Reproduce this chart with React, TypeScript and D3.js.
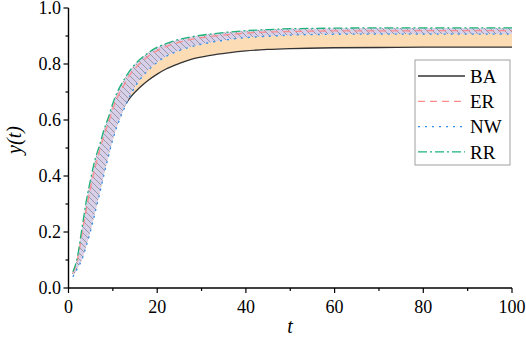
import React from 'react';
import * as d3 from 'd3';

// time steps sampled from the figure
const tValues = [1, 2, 3, 4, 5, 6, 7, 8, 9, 10, 11, 12, 14, 16, 18, 20, 22, 25, 28, 32, 36, 40, 45, 50, 60, 70, 80, 90, 100];

const baValues = [0.05, 0.09, 0.15, 0.22, 0.29, 0.36, 0.42, 0.48, 0.53, 0.572, 0.605, 0.635, 0.682, 0.715, 0.742, 0.764, 0.782, 0.802, 0.818, 0.831, 0.84, 0.847, 0.852, 0.855, 0.858, 0.859, 0.86, 0.86, 0.86];
const erValues = [0.055, 0.10, 0.19, 0.28, 0.36, 0.43, 0.49, 0.545, 0.59, 0.64, 0.68, 0.71, 0.765, 0.80, 0.828, 0.848, 0.862, 0.878, 0.889, 0.898, 0.905, 0.91, 0.914, 0.916, 0.918, 0.918, 0.919, 0.919, 0.919];
const nwValues = [0.04, 0.07, 0.10, 0.15, 0.205, 0.27, 0.335, 0.405, 0.47, 0.53, 0.58, 0.62, 0.69, 0.742, 0.778, 0.806, 0.827, 0.848, 0.863, 0.877, 0.887, 0.894, 0.899, 0.903, 0.906, 0.907, 0.907, 0.907, 0.907];
const rrValues = [0.058, 0.11, 0.21, 0.31, 0.39, 0.46, 0.51, 0.565, 0.61, 0.66, 0.70, 0.73, 0.78, 0.815, 0.84, 0.86, 0.873, 0.888, 0.898, 0.907, 0.914, 0.919, 0.923, 0.926, 0.928, 0.929, 0.929, 0.929, 0.929];

const xTicks = [0, 20, 40, 60, 80, 100];
const xMinorTicks = [10, 30, 50, 70, 90];
const yTicks = [0, 0.2, 0.4, 0.6, 0.8, 1.0];
const yMinorTicks = [0.1, 0.3, 0.5, 0.7, 0.9];

const legendItems = [
  { name: 'BA', color: '#333333', dash: '' },
  { name: 'ER', color: '#ff8c8c', dash: '7 5' },
  { name: 'NW', color: '#2f8fe8', dash: '2 5' },
  { name: 'RR', color: '#1fb37a', dash: '9 3 2 3' },
];

const W = 526;
const H = 345;
const font = 'Liberation Serif';

export default function App() {
  const x = d3.scaleLinear().domain([0, 100]).range([68.5, 512]);
  const y = d3.scaleLinear().domain([0, 1]).range([288, 8]);

  const idx = tValues.map((_, i) => i);
  const line = (vals: number[]) =>
    d3.line<number>().x(i => x(tValues[i])).y(i => y(vals[i])).curve(d3.curveMonotoneX)(idx) || '';

  const peach = d3.area<number>()
    .x(i => x(tValues[i]))
    .y0(i => y(baValues[i]))
    .y1(i => y(nwValues[i]))
    .curve(d3.curveMonotoneX)(idx) || '';

  const hatch = d3.area<number>()
    .x(i => x(tValues[i]))
    .y0(i => y(nwValues[i]))
    .y1(i => y(rrValues[i]))
    .curve(d3.curveMonotoneX)(idx) || '';

  const upper = [erValues, nwValues, rrValues];

  return (
    <svg width={W} height={H} style={{ position: 'absolute', left: 0, top: 0, background: '#fff' }}>
      <defs>
        <pattern id="hatch" width={6} height={6} patternUnits="userSpaceOnUse">
          <rect width={6} height={6} fill="#d8d0e8" />
          <path d="M0,0 L6,6 M-1,5 L1,7 M5,-1 L7,1" stroke="#8a8a96" strokeWidth={0.8} />
        </pattern>
      </defs>

      <path d={peach} fill="#fcdcb4" stroke="none" />
      {/* BA sits under the hatched band where it runs inside it */}
      <path d={line(baValues)} fill="none" stroke={legendItems[0].color} strokeWidth={1.3} />
      <path d={hatch} fill="url(#hatch)" stroke="none" />

      {upper.map((vals, k) => (
        <path key={legendItems[k + 1].name} d={line(vals)} fill="none"
          stroke={legendItems[k + 1].color} strokeWidth={1.3}
          strokeDasharray={legendItems[k + 1].dash} />
      ))}

      {/* axes */}
      <line x1={x(0)} x2={x(0)} y1={y(1)} y2={y(0)} stroke="#000" strokeWidth={1.4} />
      <line x1={x(0)} x2={x(100)} y1={y(0)} y2={y(0)} stroke="#000" strokeWidth={1.4} />

      {xTicks.map(t => (
        <g key={'x' + t}>
          <line x1={x(t)} x2={x(t)} y1={y(0)} y2={y(0) + 5} stroke="#000" strokeWidth={1.2} />
          <text x={x(t)} y={313} textAnchor="middle" fontFamily={font} fontSize={18}>{t}</text>
        </g>
      ))}
      {xMinorTicks.map(t => (
        <line key={'xm' + t} x1={x(t)} x2={x(t)} y1={y(0)} y2={y(0) + 3} stroke="#000" strokeWidth={1.2} />
      ))}
      {yTicks.map(v => (
        <g key={'y' + v}>
          <line x1={x(0) - 5} x2={x(0)} y1={y(v)} y2={y(v)} stroke="#000" strokeWidth={1.2} />
          <text x={61} y={y(v)} dy="0.35em" textAnchor="end" fontFamily={font} fontSize={18}>{v.toFixed(1)}</text>
        </g>
      ))}
      {yMinorTicks.map(v => (
        <line key={'ym' + v} x1={x(0) - 3} x2={x(0)} y1={y(v)} y2={y(v)} stroke="#000" strokeWidth={1.2} />
      ))}

      <text x={290} y={333} textAnchor="middle" fontFamily={font} fontSize={20} fontStyle="italic">t</text>
      <text transform="translate(21,140) rotate(-90)" textAnchor="middle" fontFamily={font} fontSize={20} fontStyle="italic">y(t)</text>

      {/* legend */}
      <rect x={415} y={60} width={95} height={105} fill="#fff" stroke="#a0a0a0" strokeWidth={1} />
      {legendItems.map((d, i) => {
        const ly = 76 + i * 25.3;
        return (
          <g key={'lg' + d.name}>
            <line x1={418} x2={465} y1={ly} y2={ly} stroke={d.color} strokeWidth={1.3}
              strokeDasharray={d.dash || undefined} />
            <text x={470} y={ly} dy="0.35em" fontFamily={font} fontSize={19}>{d.name}</text>
          </g>
        );
      })}
    </svg>
  );
}
